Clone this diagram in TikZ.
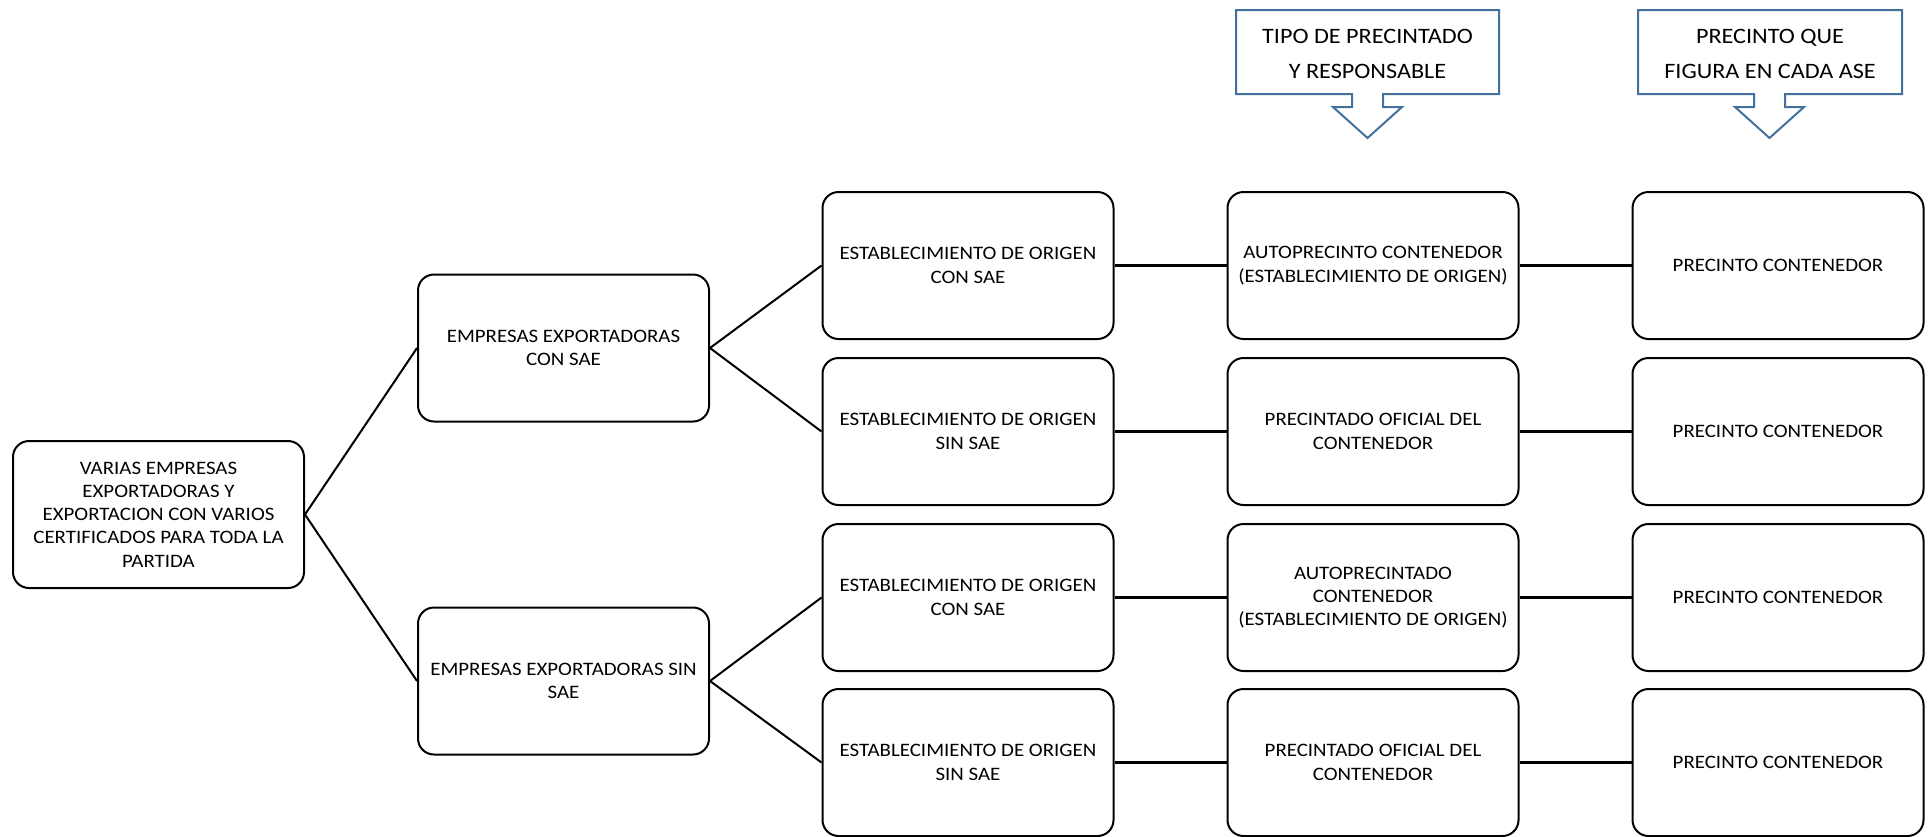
\documentclass[tikz,border=0pt]{standalone}
\usepackage{fontspec}
\setmainfont{Carlito}[FakeStretch=1.1]
\definecolor{calloutblue}{RGB}{65,113,156}
\tikzset{
  box/.style={draw, line width=2pt, rounded corners=16pt, minimum width=291pt,
    minimum height=147pt, align=center, inner sep=0pt,
    font=\fontsize{19}{23.3}\selectfont},
  link/.style={line width=2pt},
  hlink/.style={line width=3.5pt},
  callout/.style={draw=calloutblue, line width=2pt, line join=miter},
  callouttext/.style={align=center, inner sep=0pt, font=\fontsize{22}{35}\selectfont}
}
\begin{document}
\begin{tikzpicture}[x=1pt,y=-1pt]
\useasboundingbox (0,0) rectangle (1932,836);
% callouts
\draw[callout] (1236,10) -- (1499,10) -- (1499,94) -- (1383,94) -- (1383,107) -- (1402,107)
  -- (1367.5,138) -- (1333,107) -- (1352,107) -- (1352,94) -- (1236,94) -- cycle;
\node[callouttext] (t1) at (1367.5,54) {TIPO DE PRECINTADO\\Y RESPONSABLE};
\draw[callout] (1638,10) -- (1902,10) -- (1902,94) -- (1785,94) -- (1785,107) -- (1804,107)
  -- (1769.5,138) -- (1735,107) -- (1754,107) -- (1754,94) -- (1638,94) -- cycle;
\node[callouttext] (t2) at (1770,54) {PRECINTO QUE\\FIGURA EN CADA ASE};
% boxes
\node[box] (root) at (158.5,514.5) {VARIAS EMPRESAS\\EXPORTADORAS Y\\EXPORTACION CON VARIOS\\CERTIFICADOS PARA TODA LA\\PARTIDA};
\node[box] (e1) at (563.5,348) {EMPRESAS EXPORTADORAS\\CON SAE};
\node[box] (e2) at (563.5,681) {EMPRESAS EXPORTADORAS SIN\\SAE};
\node[box] (s1) at (968,265.5) {ESTABLECIMIENTO DE ORIGEN\\CON SAE};
\node[box] (s2) at (968,431.5) {ESTABLECIMIENTO DE ORIGEN\\SIN SAE};
\node[box] (s3) at (968,597.5) {ESTABLECIMIENTO DE ORIGEN\\CON SAE};
\node[box] (s4) at (968,762.5) {ESTABLECIMIENTO DE ORIGEN\\SIN SAE};
\node[box] (p1) at (1373,265.5) {AUTOPRECINTO CONTENEDOR\\(ESTABLECIMIENTO DE ORIGEN)};
\node[box] (p2) at (1373,431.5) {PRECINTADO OFICIAL DEL\\CONTENEDOR};
\node[box] (p3) at (1373,597.5) {AUTOPRECINTADO\\CONTENEDOR\\(ESTABLECIMIENTO DE ORIGEN)};
\node[box] (p4) at (1373,762.5) {PRECINTADO OFICIAL DEL\\CONTENEDOR};
\node[box] (c1) at (1778,265.5) {PRECINTO CONTENEDOR};
\node[box] (c2) at (1778,431.5) {PRECINTO CONTENEDOR};
\node[box] (c3) at (1778,597.5) {PRECINTO CONTENEDOR};
\node[box] (c4) at (1778,762.5) {PRECINTO CONTENEDOR};
% connectors
\draw[link] (root.east) -- (e1.west);
\draw[link] (root.east) -- (e2.west);
\draw[link] (e1.east) -- (s1.west);
\draw[link] (e1.east) -- (s2.west);
\draw[link] (e2.east) -- (s3.west);
\draw[link] (e2.east) -- (s4.west);
\foreach \i in {1,2,3,4}{
  \draw[hlink] (s\i.east) -- (p\i.west);
  \draw[hlink] (p\i.east) -- (c\i.west);
}
\end{tikzpicture}
\end{document}
